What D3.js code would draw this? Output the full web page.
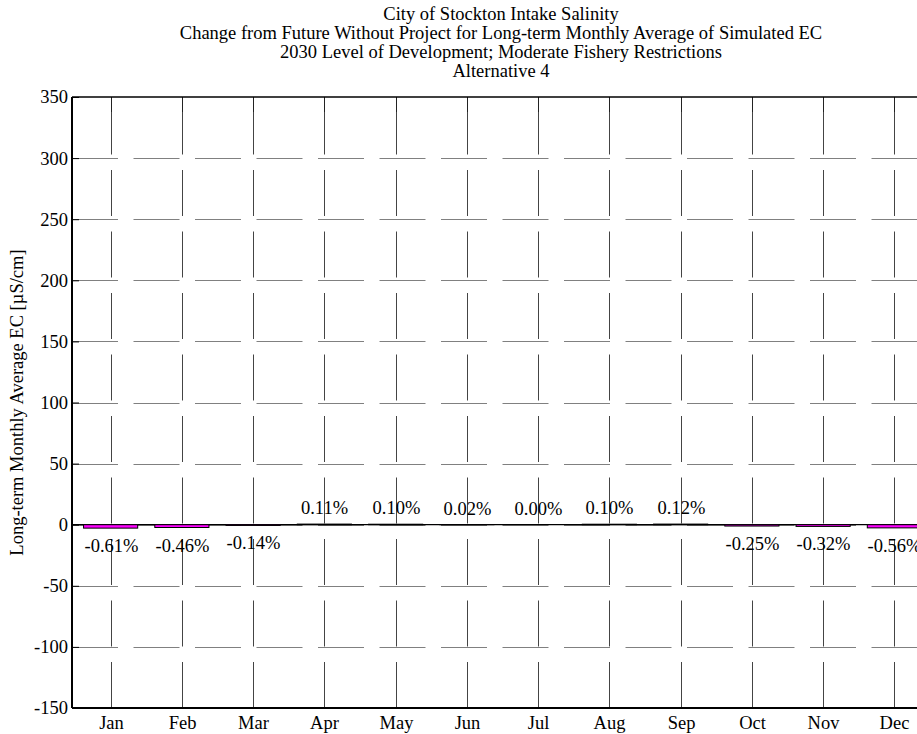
<!DOCTYPE html>
<html>
<head>
<meta charset="utf-8">
<script src="https://cdn.jsdelivr.net/npm/d3@7"></script>
<style>
  body { margin: 0; background: #fff; }
  svg text { font-family: "Liberation Serif", "DejaVu Serif", serif; }
</style>
</head>
<body>
<div id="chart"></div>
<script>

// data
var months = ["Jan", "Feb", "Mar", "Apr", "May", "Jun", "Jul", "Aug", "Sep", "Oct", "Nov", "Dec"];
var changeEC = [-2.8, -2.3, -0.6, 0.5, 0.4, 0.1, 0.0, 0.4, 0.5, -1.1, -1.4, -2.6];
var changePct = ["-0.61%", "-0.46%", "-0.14%", "0.11%", "0.10%", "0.02%", "0.00%", "0.10%", "0.12%", "-0.25%", "-0.32%", "-0.56%"];
var yTicks = [-150, -100, -50, 0, 50, 100, 150, 200, 250, 300, 350];
var titleLines = [
  "City of Stockton Intake Salinity",
  "Change from Future Without Project for Long-term Monthly Average of Simulated EC",
  "2030 Level of Development; Moderate Fishery Restrictions",
  "Alternative 4"
];

var FONT = "'Liberation Serif', 'DejaVu Serif', serif";
var FS = "18.5px";

// set the dimensions and margins of the graph
var W = 917, H = 734;
var margin = {top: 97, left: 72, bottom: 26, right: -13},
    width = W - margin.left - margin.right,
    height = H - margin.top - margin.bottom;

var svg = d3.select("#chart")
  .append("svg")
    .attr("width", W)
    .attr("height", H)
    .attr("font-family", FONT);

var g = svg.append("g")
    .attr("transform", "translate(" + margin.left + "," + margin.top + ")");

var data = months.map(function(m, i) { return {month: m, value: changeEC[i], pct: changePct[i]}; });

// scales
var x = d3.scaleBand()
  .domain(months)
  .range([3, width])
  .paddingInner(0.24)
  .paddingOuter(0.12);

var y = d3.scaleLinear()
  .domain([-150, 350])
  .range([height, 0]);

function cx(m) { return Math.round(x(m) + x.bandwidth() / 2) + 0.5; }

// horizontal grid (dashed, gray)
g.selectAll(".hgrid")
  .data(yTicks.filter(function(t) { return t > -150 && t < 350; }))
  .enter().append("line")
    .attr("x1", 0).attr("x2", width)
    .attr("y1", function(d) { return Math.round(y(d)) + 0.5; })
    .attr("y2", function(d) { return Math.round(y(d)) + 0.5; })
    .attr("stroke", "#808080")
    .attr("stroke-width", 1)
    .attr("stroke-dasharray", "46,15.5");

// vertical grid (dashed, drawn from bottom up)
g.selectAll(".vgrid")
  .data(months)
  .enter().append("line")
    .attr("x1", function(d) { return cx(d); })
    .attr("x2", function(d) { return cx(d); })
    .attr("y1", y(-150))
    .attr("y2", y(350))
    .attr("stroke", "#444")
    .attr("stroke-width", 1)
    .attr("stroke-dasharray", "46,15.5");

// top ticks pointing inward
g.selectAll(".ttick")
  .data(months)
  .enter().append("line")
    .attr("x1", function(d) { return cx(d); })
    .attr("x2", function(d) { return cx(d); })
    .attr("y1", 0)
    .attr("y2", 15)
    .attr("stroke", "#222")
    .attr("stroke-width", 1);

// zero line
g.append("line")
  .attr("x1", 0).attr("x2", width)
  .attr("y1", y(0)).attr("y2", y(0))
  .attr("stroke", "#000")
  .attr("stroke-width", 1.2);

// bars
g.selectAll(".bar")
  .data(data)
  .enter().append("rect")
    .attr("x", function(d) { return x(d.month); })
    .attr("width", x.bandwidth())
    .attr("y", function(d) { return y(Math.max(0, d.value)); })
    .attr("height", function(d) { return Math.abs(y(d.value) - y(0)); })
    .attr("fill", "#ff00ff")
    .attr("stroke", "#000")
    .attr("stroke-width", 1);

// value labels
g.selectAll(".lbl")
  .data(data)
  .enter().append("text")
    .attr("x", function(d) { return cx(d.month); })
    .attr("y", function(d) { return d.value < 0 ? y(d.value) + 24 : y(d.value) - 10; })
    .attr("text-anchor", "middle")
    .style("font-size", FS)
    .text(function(d) { return d.pct; });

// frame: top, left, bottom
g.append("line").attr("x1", 0).attr("x2", width).attr("y1", 0).attr("y2", 0)
  .attr("stroke", "#000").attr("stroke-width", 1.5);
g.append("line").attr("x1", 0).attr("x2", width).attr("y1", height).attr("y2", height)
  .attr("stroke", "#000").attr("stroke-width", 2);
g.append("line").attr("x1", 0).attr("x2", 0).attr("y1", 0).attr("y2", height)
  .attr("stroke", "#000").attr("stroke-width", 2);

// Y axis ticks and labels
var yAxis = g.append("g")
  .call(d3.axisRight(y).tickValues(yTicks).tickSize(7).tickFormat(""));
yAxis.select(".domain").remove();
yAxis.selectAll("line").attr("stroke", "#000").attr("stroke-width", 1);

g.selectAll(".ylbl")
  .data(yTicks)
  .enter().append("text")
    .attr("x", -4)
    .attr("y", function(d) { return y(d); })
    .attr("dy", "0.35em")
    .attr("text-anchor", "end")
    .style("font-size", FS)
    .text(function(d) { return d; });

// X axis labels
g.selectAll(".xlbl")
  .data(months)
  .enter().append("text")
    .attr("x", function(d) { return cx(d); })
    .attr("y", height + 21)
    .attr("text-anchor", "middle")
    .style("font-size", FS)
    .text(function(d) { return d; });

// Y axis title
svg.append("text")
  .attr("transform", "translate(23," + (margin.top + height / 2) + ")rotate(-90)")
  .attr("text-anchor", "middle")
  .style("font-size", FS)
  .text("Long-term Monthly Average EC [\u00b5S/cm]");

// title
svg.selectAll(".title")
  .data(titleLines)
  .enter().append("text")
    .attr("x", margin.left + width / 2)
    .attr("y", function(d, i) { return 20 + i * 19; })
    .attr("text-anchor", "middle")
    .style("font-size", FS)
    .text(function(d) { return d; });

</script>
</body>
</html>
